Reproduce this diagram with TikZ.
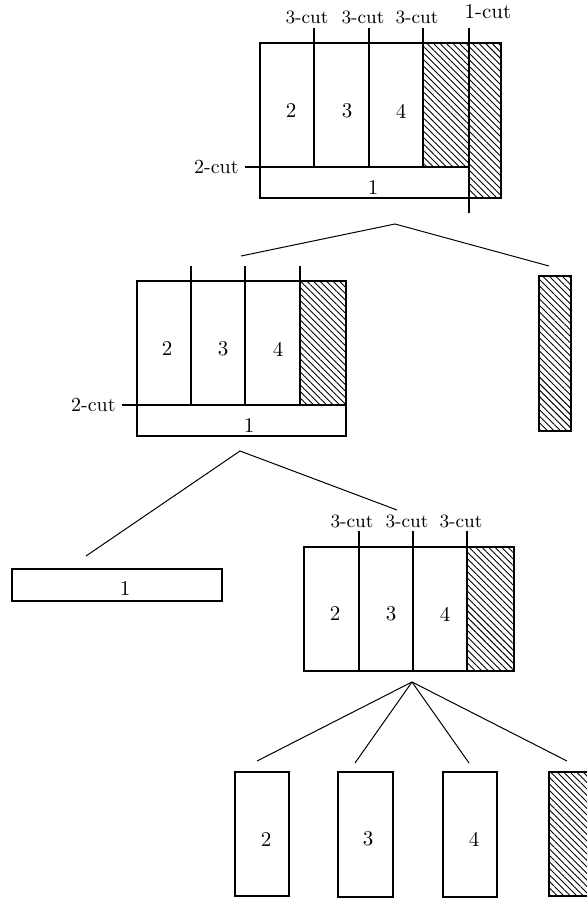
\documentclass[tikz,border=0pt]{standalone}
\usepackage{fontspec}
\usetikzlibrary{patterns.meta}
\begin{document}
\begin{tikzpicture}[x=0.5pt,y=-0.5pt,
  box/.style={line width=0.65pt},
  branch/.style={line width=0.5pt},
  waste/.style={pattern={Lines[angle=-45,distance=2.3pt,line width=0.45pt]}},
  cutlbl/.style={inner sep=0pt,font=\fontsize{9.4}{11}\selectfont},
  onecut/.style={inner sep=0pt,font=\fontsize{10.5}{12}\selectfont},
  twocut/.style={inner sep=0pt,anchor=east,font=\fontsize{10}{12}\selectfont},
  piece/.style={inner sep=0pt,font=\fontsize{10.5}{12}\selectfont}]
\useasboundingbox (0,0) rectangle (587,898);

% ---------- whole sheet: 1-cut, 2-cut, 3-cuts ----------
\fill[waste] (423,43) -- (501,43) -- (501,198) -- (469,198) -- (469,167) -- (423,167) -- cycle;
\draw[box] (260,43) rectangle (501,198);
\draw[box] (245,167) -- (469,167);
\foreach \x in {314,369,423} \draw[box] (\x,28) -- (\x,167);
\draw[box] (469,28) -- (469,213);
\node[cutlbl] (ta) at (307,17) {3-cut};
\node[cutlbl] (tb) at (363,17) {3-cut};
\node[cutlbl] (tc) at (417,17) {3-cut};
\node[onecut] (td) at (488,12) {1-cut};
\node[twocut] (te) at (239,167) {2-cut};
\node[piece] (t2) at (291,111) {2};
\node[piece] (t3) at (347,111) {3};
\node[piece] (t4) at (401,111) {4};
\node[piece] (t1) at (373,188) {1};

% branch after the 1-cut
\coordinate (r0) at (395,224);
\coordinate (r1) at (241,256);
\coordinate (r2) at (549,266);
\draw[branch] (r1) -- (r0) -- (r2);

% ---------- left part: 2-cut ----------
\fill[waste] (300,281) rectangle (346,405);
\draw[box] (137,281) rectangle (346,436);
\draw[box] (122,405) -- (346,405);
\foreach \x in {191,245,300} \draw[box] (\x,266) -- (\x,405);
\node[twocut] (me) at (116,405) {2-cut};
\node[piece] (m2) at (167,349) {2};
\node[piece] (m3) at (223,349) {3};
\node[piece] (m4) at (278,349) {4};
\node[piece] (m1) at (249,426) {1};

% right strip (waste)
\fill[waste] (539,276) rectangle (571,431);
\draw[box] (539,276) rectangle (571,431);

% branch after the 2-cut
\coordinate (s0) at (240,451);
\coordinate (s1) at (86,556);
\coordinate (s2) at (397,510);
\draw[branch] (s1) -- (s0) -- (s2);

% ---------- strip 1 ----------
\draw[box] (12,569) rectangle (222,601);
\node[piece] (b1) at (125,589) {1};

% ---------- upper part: 3-cuts ----------
\fill[waste] (467,547) rectangle (514,671);
\draw[box] (304,547) rectangle (514,671);
\foreach \x in {359,413,467} \draw[box] (\x,531) -- (\x,671);
\node[cutlbl] (ua) at (352,521) {3-cut};
\node[cutlbl] (ub) at (407,521) {3-cut};
\node[cutlbl] (uc) at (461,521) {3-cut};
\node[piece] (u2) at (335,614) {2};
\node[piece] (u3) at (391,614) {3};
\node[piece] (u4) at (445,614) {4};

% branches after the 3-cuts
\coordinate (v0) at (412,682);
\coordinate (v1) at (257,761);
\coordinate (v2) at (355,763);
\coordinate (v3) at (469,763);
\coordinate (v4) at (567,761);
\foreach \c in {v1,v2,v3,v4} \draw[branch] (v0) -- (\c);

% ---------- final pieces ----------
\draw[box] (235,772) rectangle (289,896);
\draw[box] (338,772) rectangle (393,897);
\draw[box] (443,772) rectangle (497,897);
\fill[waste] (549,772) rectangle (587,896);
\draw[box] (587,772) -- (549,772) -- (549,896) -- (587,896);
\node[piece] (p2) at (266,839) {2};
\node[piece] (p3) at (368,839) {3};
\node[piece] (p4) at (474,839) {4};
\end{tikzpicture}
\end{document}
